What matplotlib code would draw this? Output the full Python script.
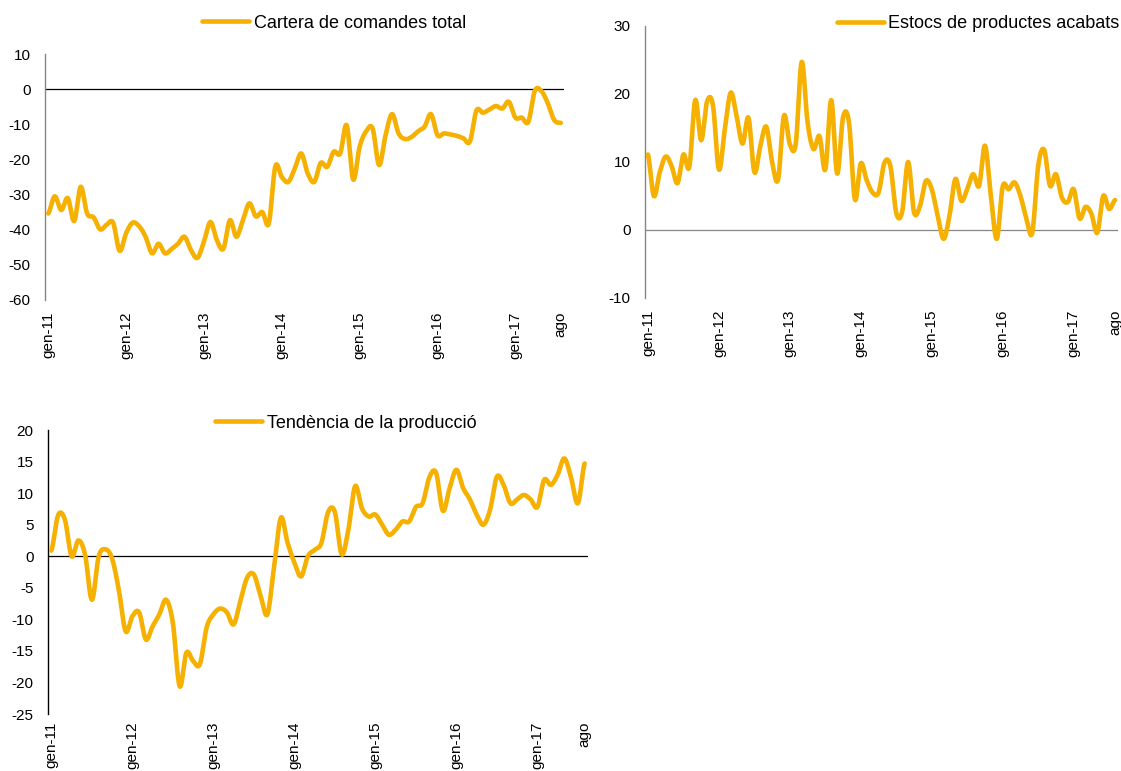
import numpy as np
import matplotlib
matplotlib.use("Agg")
import matplotlib.pyplot as plt

plt.rcParams['font.family'] = ['Liberation Sans', 'DejaVu Sans']
plt.rcParams['axes.unicode_minus'] = False

# monthly series, gen-11 .. ago-17 (80 months)
cartera = [-35.4, -30.5, -34.4, -31.0, -37.5, -27.8, -35.4, -36.5, -39.9, -38.6,
           -38.0, -46.0, -41.0, -38.0, -39.0, -42.0, -46.7, -44.0, -46.7, -45.5,
           -44.0, -42.0, -45.8, -48.0, -43.4, -37.8, -43.0, -45.4, -37.3, -42.0,
           -37.3, -32.5, -36.2, -35.0, -38.2, -22.0, -25.0, -26.4, -22.6, -18.3,
           -24.0, -26.4, -21.0, -22.1, -17.8, -18.3, -10.3, -25.7, -16.4, -12.0,
           -11.2, -21.6, -13.1, -7.1, -12.6, -14.2, -13.6, -12.0, -10.7, -7.1,
           -13.1, -12.6, -12.9, -13.3, -14.0, -14.9, -6.1, -6.7, -5.8, -4.8,
           -5.5, -3.6, -8.1, -8.1, -9.3, -0.5, -0.5, -4.0, -8.8, -9.6]

estocs = [11.1, 5.0, 8.5, 10.8, 9.4, 6.9, 11.1, 9.3, 19.1, 13.2,
          18.9, 18.3, 8.9, 14.8, 20.2, 16.7, 12.7, 16.5, 8.5, 12.3,
          15.2, 10.0, 7.4, 16.8, 12.6, 12.7, 24.7, 15.8, 11.9, 13.8,
          8.9, 19.1, 8.3, 16.6, 15.8, 4.5, 9.8, 7.3, 5.5, 5.5,
          9.9, 9.4, 2.5, 2.7, 10.0, 2.6, 3.5, 7.2, 6.0, 2.1,
          -1.3, 2.1, 7.5, 4.3, 6.0, 8.2, 6.5, 12.4, 5.0, -1.3,
          6.4, 6.0, 7.0, 5.0, 1.7, -0.4, 9.4, 11.8, 6.5, 8.2,
          4.8, 4.1, 6.0, 1.7, 3.4, 2.4, -0.4, 5.0, 3.1, 4.4]

tendencia = [0.9, 6.5, 5.8, 0.0, 2.5, 0.2, -6.9, -0.1, 1.1, -0.4,
             -5.4, -11.9, -9.5, -8.9, -13.2, -11.1, -9.2, -6.9, -10.6, -20.6,
             -15.3, -16.6, -17.1, -11.3, -9.2, -8.3, -8.9, -10.8, -7.1, -3.4,
             -2.9, -6.3, -9.2, -1.6, 6.1, 2.1, -1.0, -3.2, 0.0, 1.0,
             2.1, 7.0, 7.0, 0.3, 4.2, 11.1, 7.6, 6.3, 6.6, 5.0,
             3.4, 4.2, 5.5, 5.5, 7.8, 8.4, 12.5, 13.2, 7.2, 10.8,
             13.7, 10.8, 9.0, 6.6, 5.0, 7.4, 12.6, 11.3, 8.4, 9.0,
             9.7, 9.0, 7.8, 12.1, 11.3, 12.9, 15.5, 12.4, 8.4, 14.7]

tick_pos = [0, 12, 24, 36, 48, 60, 72, 79]
tick_lab = ['gen-11', 'gen-12', 'gen-13', 'gen-14', 'gen-15', 'gen-16', 'gen-17', 'ago']

COL = '#F5B000'


def smooth(y, n=24):
    # excel-like smoothed line (bezier through the points)
    y = np.asarray(y, float)
    p = np.concatenate([[y[0]], y, [y[-1]]])
    t = np.linspace(0, 1, n, endpoint=False)
    xs, ys = [], []
    for i in range(len(y) - 1):
        p0, p1, p2, p3 = p[i], p[i + 1], p[i + 2], p[i + 3]
        c1 = p1 + (p2 - p0) / 6
        c2 = p2 - (p3 - p1) / 6
        ys.append((1 - t)**3 * p1 + 3 * (1 - t)**2 * t * c1 + 3 * (1 - t) * t**2 * c2 + t**3 * p2)
        xs.append(i + t)
    xs.append([len(y) - 1])
    ys.append([y[-1]])
    return np.concatenate(xs), np.concatenate(ys)


def panel(rect, data, label, ylim, yticks, spine_col, zero_col, xpad, leg_xy):
    ax = fig.add_axes(rect)
    x, y = smooth(data)
    ax.axhline(0, color=zero_col, lw=0.9, zorder=1)
    ln, = ax.plot(x, y, color=COL, lw=3.3, solid_capstyle='round', zorder=3, label=label)
    ax.set_xlim(-0.5, 79.5)
    ax.set_ylim(*ylim)
    ax.set_yticks(yticks)
    ax.set_xticks(tick_pos)
    ax.set_xticklabels(tick_lab, rotation=90, ha='center', va='top')
    for s in ['top', 'right', 'bottom']:
        ax.spines[s].set_visible(False)
    ax.spines['left'].set_color(spine_col)
    ax.spines['left'].set_linewidth(1.0)
    ax.tick_params(axis='y', length=0, pad=10.5, labelsize=11)
    ax.tick_params(axis='x', length=0, pad=xpad, labelsize=11)
    ax.legend(handles=[ln], loc='center', bbox_to_anchor=leg_xy, bbox_transform=fig.transFigure,
              frameon=False, fontsize=13, handlelength=2.6, handletextpad=0.25, borderpad=0)
    return ax


fig = plt.figure(figsize=(11.21, 7.71), dpi=100)

panel([45/1121, 1 - 300/771, 519/1121, 246/771], cartera, 'Cartera de comandes total',
      (-60, 10), range(-60, 11, 10), '#868686', 'black', 8.5, (334/1121, 1 - 23/771))
panel([645/1121, 1 - 298/771, 473/1121, 272/771], estocs, 'Estocs de productes acabats',
      (-10, 30), range(-10, 31, 10), '#868686', '#868686', 8.5, (978/1121, 1 - 24/771))
panel([48/1121, 1 - 714/771, 540/1121, 284/771], tendencia, 'Tendència de la producció',
      (-25, 20), range(-25, 21, 5), 'black', 'black', 5.5, (346/1121, 1 - 423/771))

fig.savefig('out.png', dpi=100)
